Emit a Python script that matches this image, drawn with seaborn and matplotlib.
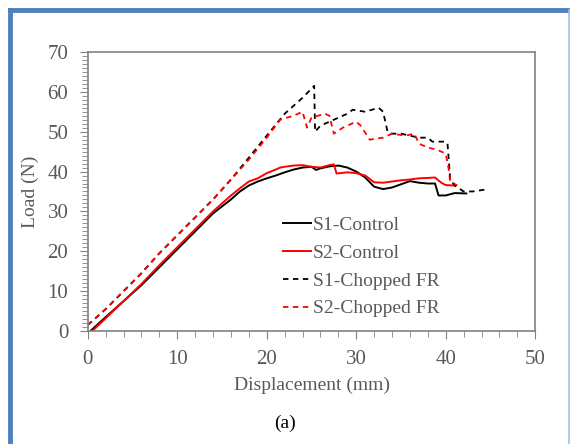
import numpy as np
import pandas as pd
import matplotlib.pyplot as plt
import seaborn as sns
from matplotlib.lines import Line2D
from matplotlib.ticker import MultipleLocator

# data (displacement mm, load N)
s1_ctrl_x = [0.3, 2, 4, 6, 8, 10, 12, 14, 16, 17, 18, 19, 20, 21, 22, 23, 24, 25, 25.5, 26, 27, 28, 29,
             30, 31, 32, 33, 34, 35, 36, 37, 38, 38.8, 39.2, 40, 41, 42.3]
s1_ctrl_y = [0, 3.5, 7.5, 11.5, 16, 20.5, 25, 29.5, 33, 35, 36.5, 37.5, 38.3, 39, 39.8, 40.5, 41, 41.2, 40.4, 40.8,
             41.3, 41.5, 41, 40, 38.5, 36.2, 35.6, 36, 36.8, 37.6, 37.2, 37, 37, 34, 34, 34.6, 34.5]

s2_ctrl_x = [0.5, 2, 4, 6, 8, 10, 12, 14, 16, 17, 18, 19, 20, 21, 21.5, 22, 23, 24, 25, 26, 27, 27.5, 27.8,
             29, 30, 31, 32, 33, 34, 35, 36, 37, 38, 38.8, 39.5, 40, 41]
s2_ctrl_y = [0, 3.2, 7.5, 11.8, 16.5, 21, 25.5, 30, 34, 35.8, 37.5, 38.3, 39.6, 40.5, 41, 41.2, 41.5, 41.6, 41.2,
             41, 41.6, 41.8, 39.5, 39.8, 39.6, 39, 37.3, 37.2, 37.5, 37.8, 38, 38.3, 38.4, 38.5, 37.2, 36.6, 36.5]

s1_chop_x = [0, 2, 4, 6, 8, 10, 12, 14, 16, 18, 20, 22, 24, 25.3, 25.4, 26, 27, 28, 29, 29.6, 31, 32.5, 33,
             33.5, 34, 35, 36, 37, 38, 38.5, 40, 40.2, 40.5, 41, 42, 43, 44.5]
s1_chop_y = [1.5, 5.5, 10, 14.5, 19.5, 24, 28.5, 33, 38, 43.5, 49, 54.5, 58.5, 61.5, 50, 51.5, 52.5, 53.5, 54.5,
             55.5, 55, 56, 55, 50, 49.5, 49.5, 49, 48.5, 48.5, 47.5, 47.5, 47, 38, 36.5, 35, 35, 35.5]

s2_chop_x = [0, 2, 4, 6, 8, 10, 12, 14, 16, 18, 20, 21.5, 23, 24, 24.5, 25, 26.5, 27, 27.5, 28.5, 30, 30.5,
             31.5, 33, 34, 35.5, 36.5, 37, 38, 39, 40, 40.3, 40.5, 41.3]
s2_chop_y = [1.5, 5.5, 10, 14.5, 19.5, 24, 28.5, 33, 38, 43, 48.5, 53, 54, 55, 51, 53.5, 54.5, 54, 49.5, 51,
             52.5, 51.5, 48, 48.5, 49.5, 49, 49.5, 47, 46, 45.5, 44.5, 41, 37.5, 36.5]

plt.rcParams['font.family'] = ['Liberation Serif', 'DejaVu Serif']
grey = '#595959'

fig = plt.figure(figsize=(5.7, 4.44), dpi=100)
ax = fig.add_axes([0.154, 0.2545, 0.785, 0.6285])

sns.lineplot(x=s1_ctrl_x, y=s1_ctrl_y, ax=ax, color='black', lw=1.4, label='S1-Control')
sns.lineplot(x=s2_ctrl_x, y=s2_ctrl_y, ax=ax, color='#ff0000', lw=1.4, label='S2-Control')
sns.lineplot(x=s1_chop_x, y=s1_chop_y, ax=ax, color='black', lw=1.3, ls=(0, (3, 2.5)), label='S1-Chopped FR')
sns.lineplot(x=s2_chop_x, y=s2_chop_y, ax=ax, color='#ff0000', lw=1.3, ls=(0, (3, 2.5)), label='S2-Chopped FR')

ax.set_xlim(0, 50)
ax.set_ylim(0, 70)
ax.xaxis.set_major_locator(MultipleLocator(10))
ax.xaxis.set_minor_locator(MultipleLocator(2))
ax.yaxis.set_major_locator(MultipleLocator(10))
ax.yaxis.set_minor_locator(MultipleLocator(1))
ax.tick_params(which='major', direction='out', length=6, color='#808080', labelsize=15, labelcolor=grey, pad=8)
ax.tick_params(which='minor', direction='out', length=4, color='#808080')
for s in ax.spines.values():
    s.set_color('#808080')
    s.set_linewidth(1.2)

ax.set_xlabel('Displacement (mm)', fontsize=14, color=grey, labelpad=5)
ax.set_ylabel('Load (N)', fontsize=14, color=grey, labelpad=6)

leg = ax.legend(loc='upper left', bbox_to_anchor=(0.436, 0.41), frameon=False, fontsize=14,
                handlelength=1.45, handletextpad=0.08, labelspacing=0.52, borderaxespad=0, borderpad=0)
for t in leg.get_texts():
    t.set_color(grey)

fig.text(0.5, 0.047, '(a)', ha='center', va='center', fontsize=14, color='black')

# blue frame around the figure: thick left and top, thin light right edge
fig.add_artist(Line2D([9.5 / 570, 9.5 / 570], [0, 1 - 10 / 444], transform=fig.transFigure,
                      color='#4f81bd', lw=3.5, solid_capstyle='projecting'))
fig.add_artist(Line2D([9.5 / 570, 569 / 570], [1 - 10 / 444, 1 - 10 / 444], transform=fig.transFigure,
                      color='#4f81bd', lw=3.5))
fig.add_artist(Line2D([568.5 / 570, 568.5 / 570], [0, 1 - 10 / 444], transform=fig.transFigure,
                      color='#a9c1e0', lw=1.2))

fig.savefig('out.png', dpi=100)
